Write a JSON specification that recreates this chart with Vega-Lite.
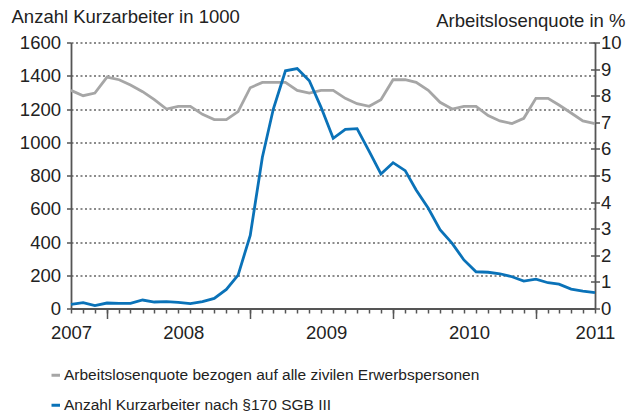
{
  "$schema": "https://vega.github.io/schema/vega-lite/v6.json",
  "width": 524,
  "height": 266,
  "autosize": {"type": "none"},
  "padding": {"left": 71, "top": 42.5, "right": 34, "bottom": 103.5},
  "data": {"values": [
    {"monat": "2007-10-01", "kurzarbeiter": 25, "quote": 8.2},
    {"monat": "2007-11-01", "kurzarbeiter": 35, "quote": 8.0},
    {"monat": "2007-12-01", "kurzarbeiter": 17, "quote": 8.1},
    {"monat": "2008-01-01", "kurzarbeiter": 33, "quote": 8.7},
    {"monat": "2008-02-01", "kurzarbeiter": 31, "quote": 8.6},
    {"monat": "2008-03-01", "kurzarbeiter": 31, "quote": 8.4},
    {"monat": "2008-04-01", "kurzarbeiter": 51, "quote": 8.15},
    {"monat": "2008-05-01", "kurzarbeiter": 39, "quote": 7.85},
    {"monat": "2008-06-01", "kurzarbeiter": 41, "quote": 7.5},
    {"monat": "2008-07-01", "kurzarbeiter": 37, "quote": 7.6},
    {"monat": "2008-08-01", "kurzarbeiter": 29, "quote": 7.6},
    {"monat": "2008-09-01", "kurzarbeiter": 41, "quote": 7.3},
    {"monat": "2008-10-01", "kurzarbeiter": 61, "quote": 7.1},
    {"monat": "2008-11-01", "kurzarbeiter": 115, "quote": 7.1},
    {"monat": "2008-12-01", "kurzarbeiter": 201, "quote": 7.4},
    {"monat": "2009-01-01", "kurzarbeiter": 440, "quote": 8.3},
    {"monat": "2009-02-01", "kurzarbeiter": 910, "quote": 8.5},
    {"monat": "2009-03-01", "kurzarbeiter": 1200, "quote": 8.5},
    {"monat": "2009-04-01", "kurzarbeiter": 1430, "quote": 8.5},
    {"monat": "2009-05-01", "kurzarbeiter": 1443, "quote": 8.2},
    {"monat": "2009-06-01", "kurzarbeiter": 1370, "quote": 8.1},
    {"monat": "2009-07-01", "kurzarbeiter": 1210, "quote": 8.2},
    {"monat": "2009-08-01", "kurzarbeiter": 1024, "quote": 8.2},
    {"monat": "2009-09-01", "kurzarbeiter": 1078, "quote": 7.9},
    {"monat": "2009-10-01", "kurzarbeiter": 1082, "quote": 7.7},
    {"monat": "2009-11-01", "kurzarbeiter": 945, "quote": 7.6},
    {"monat": "2009-12-01", "kurzarbeiter": 809, "quote": 7.85},
    {"monat": "2010-01-01", "kurzarbeiter": 877, "quote": 8.6},
    {"monat": "2010-02-01", "kurzarbeiter": 829, "quote": 8.6},
    {"monat": "2010-03-01", "kurzarbeiter": 713, "quote": 8.5},
    {"monat": "2010-04-01", "kurzarbeiter": 603, "quote": 8.2},
    {"monat": "2010-05-01", "kurzarbeiter": 474, "quote": 7.75},
    {"monat": "2010-06-01", "kurzarbeiter": 392, "quote": 7.5},
    {"monat": "2010-07-01", "kurzarbeiter": 292, "quote": 7.6},
    {"monat": "2010-08-01", "kurzarbeiter": 221, "quote": 7.6},
    {"monat": "2010-09-01", "kurzarbeiter": 218, "quote": 7.25},
    {"monat": "2010-10-01", "kurzarbeiter": 209, "quote": 7.05},
    {"monat": "2010-11-01", "kurzarbeiter": 191, "quote": 6.95},
    {"monat": "2010-12-01", "kurzarbeiter": 165, "quote": 7.15},
    {"monat": "2011-01-01", "kurzarbeiter": 177, "quote": 7.9},
    {"monat": "2011-02-01", "kurzarbeiter": 155, "quote": 7.9},
    {"monat": "2011-03-01", "kurzarbeiter": 146, "quote": 7.65},
    {"monat": "2011-04-01", "kurzarbeiter": 117, "quote": 7.35},
    {"monat": "2011-05-01", "kurzarbeiter": 105, "quote": 7.05},
    {"monat": "2011-06-01", "kurzarbeiter": 95, "quote": 6.95}
  ]},
  "config": {
    "view": {"stroke": null},
    "font": "Liberation Sans",
    "axis": {
      "labelFont": "Liberation Sans", "labelFontSize": 18.5, "labelColor": "#222",
      "titleFont": "Liberation Sans", "titleFontSize": 18.5, "titleFontWeight": "normal", "titleColor": "#222",
      "domainColor": "#555", "domainWidth": 1.8, "tickColor": "#555", "tickWidth": 1.5, "grid": false
    },
    "legend": {
      "orient": "none", "legendX": -23, "legendY": 325, "direction": "vertical",
      "symbolType": "stroke", "symbolSize": 72, "symbolStrokeWidth": 3,
      "labelFont": "Liberation Sans", "labelFontSize": 15.5, "labelColor": "#222",
      "labelOffset": 0.5, "rowPadding": 13, "labelLimit": 600
    }
  },
  "resolve": {"scale": {"y": "independent"}, "axis": {"x": "independent", "y": "independent"}},
  "layer": [
    {
      "mark": {"type": "line", "strokeWidth": 2.8},
      "encoding": {
        "x": {"field": "monat", "type": "temporal", "scale": {"type": "utc"},
          "axis": {"orient": "bottom", "values": [
            {"year": 2008, "month": 1, "date": 1, "utc": true},
            {"year": 2009, "month": 1, "date": 1, "utc": true},
            {"year": 2010, "month": 1, "date": 1, "utc": true},
            {"year": 2011, "month": 1, "date": 1, "utc": true}],
            "labels": false, "tickSize": 10, "domain": false, "title": null}},
        "y": {"field": "quote", "type": "quantitative", "scale": {"domain": [0, 10], "nice": false},
          "axis": {"orient": "right", "values": [0, 1, 2, 3, 4, 5, 6, 7, 8, 9, 10], "tickSize": 4.5, "labelPadding": 1, "format": "d",
            "title": "Arbeitslosenquote in %", "titleAngle": 0, "titleAlign": "right", "titleBaseline": "alphabetic",
            "titleX": 30, "titleY": -16}},
        "color": {"datum": "Arbeitslosenquote bezogen auf alle zivilen Erwerbspersonen",
          "scale": {"domain": ["Arbeitslosenquote bezogen auf alle zivilen Erwerbspersonen", "Anzahl Kurzarbeiter nach §170 SGB III"],
            "range": ["#a6a6a6", "#0a72b8"]},
          "legend": {"title": null}}
      }
    },
    {
      "mark": {"type": "line", "strokeWidth": 2.8},
      "encoding": {
        "x": {"field": "monat", "type": "temporal", "scale": {"type": "utc"},
          "axis": {"orient": "bottom", "tickCount": {"interval": "month", "step": 1}, "labels": false, "tickSize": 4.5, "domain": true, "title": null}},
        "y": {"field": "kurzarbeiter", "type": "quantitative", "scale": {"domain": [0, 1600], "nice": false},
          "axis": {"orient": "left", "values": [0, 200, 400, 600, 800, 1000, 1200, 1400, 1600], "format": "d",
            "grid": true, "gridDash": [2, 2.5], "gridColor": "#666", "gridWidth": 1.5,
            "tickSize": 4.5, "labelPadding": 6,
            "title": "Anzahl Kurzarbeiter in 1000", "titleAngle": 0, "titleAlign": "left", "titleBaseline": "alphabetic",
            "titleX": -60, "titleY": -20}},
        "color": {"datum": "Anzahl Kurzarbeiter nach §170 SGB III"}
      }
    },
    {
      "mark": {"type": "line", "strokeOpacity": 0},
      "encoding": {
        "x": {"field": "monat", "type": "temporal", "scale": {"type": "utc"},
          "axis": {"orient": "bottom", "values": [
            {"year": 2007, "month": 10, "date": 1, "utc": true},
            {"year": 2008, "month": 7, "date": 14, "utc": true},
            {"year": 2009, "month": 7, "date": 14, "utc": true},
            {"year": 2010, "month": 7, "date": 14, "utc": true},
            {"year": 2011, "month": 6, "date": 1, "utc": true}],
            "labelExpr": "utcFormat(datum.value, '%Y')", "ticks": false, "domain": false,
            "labelPadding": 15, "labelFlush": false, "labelOverlap": false, "title": null}},
        "y": {"field": "quote", "type": "quantitative", "scale": {"domain": [0, 10], "nice": false},
          "axis": {"orient": "right", "values": [0, 1, 2, 3, 4, 5, 6, 7, 8, 9, 10], "tickSize": -4.5,
            "labels": false, "domain": false, "title": null}}
      }
    }
  ]
}
